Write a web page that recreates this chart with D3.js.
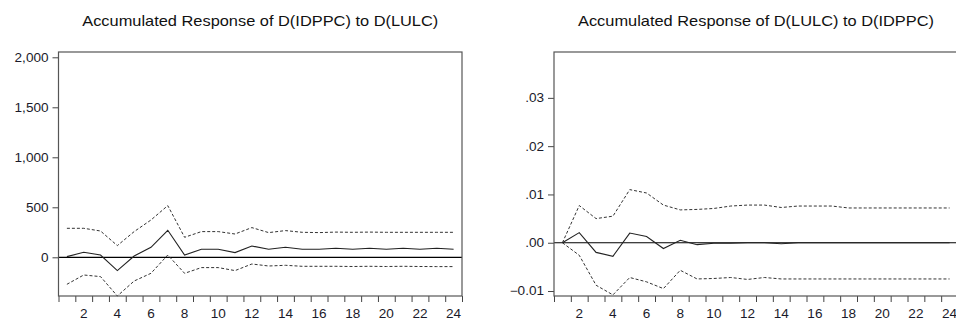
<!DOCTYPE html>
<html>
<head>
<meta charset="utf-8">
<script src="https://cdn.jsdelivr.net/npm/d3@7"></script>
<style>
  body { margin: 0; background: #fff; }
  svg { display: block; font-family: "Liberation Sans", Arial, sans-serif; }
</style>
</head>
<body>
<svg id="chart" width="956" height="320"></svg>
<script>
const periods = d3.range(1, 25);

// Accumulated response of D(IDPPC) to D(LULC)
const idppcResp = [7, 50, 23, -133, 13, 100, 270, 23, 80, 80, 47, 113,
    80, 100, 80, 80, 90, 80, 90, 80, 90, 80, 90, 80];
const idppcUpper = [290, 290, 263, 117, 257, 373, 517, 200, 257, 257, 233, 297,
    247, 267, 250, 247, 252, 250, 252, 250, 250, 250, 250, 250];
const idppcLower = [-270, -177, -193, -387, -237, -160, 23, -160, -103, -103, -133, -67,
    -87, -80, -90, -90, -90, -92, -90, -92, -90, -92, -93, -93];
const idppcTicks = [0, 500, 1000, 1500, 2000];

// Accumulated response of D(LULC) to D(IDPPC)
const lulcResp = [0, 0.0021, -0.0020, -0.0028, 0.0020, 0.0013, -0.0012, 0.0005, -0.0004, -0.0001, -0.0001, 0,
    0, -0.0002, 0, 0, 0, 0, 0, 0, 0, 0, 0, 0];
const lulcUpper = [0, 0.0077, 0.0050, 0.0055, 0.0110, 0.0103, 0.0078, 0.0068, 0.0069, 0.0071, 0.0076, 0.0078,
    0.0078, 0.0073, 0.0076, 0.0076, 0.0076, 0.0072, 0.0072, 0.0072, 0.0072, 0.0072, 0.0072, 0.0072];
const lulcLower = [0, -0.0026, -0.0088, -0.0108, -0.0072, -0.0081, -0.0095, -0.0057, -0.0075, -0.0074, -0.0072, -0.0076,
    -0.0072, -0.0075, -0.0075, -0.0075, -0.0075, -0.0075, -0.0075, -0.0075, -0.0075, -0.0075, -0.0075, -0.0075];
const lulcTicks = [-0.01, 0, 0.01, 0.02, 0.03];

const svg = d3.select('#chart');
const stretch = 1.13; // the reference text is a bit wider than plain Arial

function widen(sel) {
    sel.each(function () {
        const w = this.getComputedTextLength();
        d3.select(this)
            .attr('textLength', w * stretch)
            .attr('lengthAdjust', 'spacingAndGlyphs');
    });
}

function panel(opts) {
    const { left, right, top, bottom, title, yDomain, yTicks, yFmt, resp, upper, lower } = opts;
    const x = d3.scaleLinear().domain([0.5, 24.5]).range([left, right]);
    const y = d3.scaleLinear().domain(yDomain).range([bottom, top]);
    const g = svg.append('g');

    g.append('text')
        .attr('x', (left + right) / 2)
        .attr('y', 26)
        .attr('text-anchor', 'middle')
        .attr('font-size', 14.5)
        .attr('fill', '#111')
        .text(title)
        .call(widen);

    // y axis
    const yAxis = g.append('g')
        .attr('transform', `translate(${left},0)`)
        .call(d3.axisLeft(y).tickValues(yTicks).tickFormat(yFmt).tickSize(6).tickPadding(4));
    yAxis.select('.domain').remove();
    yAxis.selectAll('line').attr('stroke', '#444');
    yAxis.selectAll('text')
        .attr('font-size', 12)
        .attr('fill', '#1a1a2a')
        .attr('font-family', null)
        .call(widen);

    // x axis: ticks at band edges, labels at even periods
    const xAxis = g.append('g')
        .attr('transform', `translate(0,${bottom})`)
        .call(d3.axisBottom(x).tickValues(d3.range(0.5, 25, 1)).tickFormat('').tickSize(6));
    xAxis.select('.domain').remove();
    xAxis.selectAll('line').attr('stroke', '#444');

    g.selectAll('.xlab')
        .data(periods.filter((p) => p % 2 === 0))
        .enter()
        .append('text')
        .attr('class', 'xlab')
        .attr('x', (d) => x(d))
        .attr('y', bottom + 22)
        .attr('text-anchor', 'middle')
        .attr('font-size', 12)
        .attr('fill', '#1a1a2a')
        .text((d) => d)
        .call(widen);

    // zero line
    g.append('line')
        .attr('x1', left).attr('x2', right)
        .attr('y1', y(0)).attr('y2', y(0))
        .attr('stroke', '#000')
        .attr('stroke-width', 1.2);

    const line = d3.line()
        .x((d, i) => x(periods[i]))
        .y((d) => y(d));

    g.append('path')
        .datum(upper)
        .attr('d', line)
        .attr('fill', 'none')
        .attr('stroke', '#333')
        .attr('stroke-dasharray', '3,2');

    g.append('path')
        .datum(lower)
        .attr('d', line)
        .attr('fill', 'none')
        .attr('stroke', '#333')
        .attr('stroke-dasharray', '3,2');

    g.append('path')
        .datum(resp)
        .attr('d', line)
        .attr('fill', 'none')
        .attr('stroke', '#222')
        .attr('stroke-width', 1.1);

    // frame
    g.append('rect')
        .attr('x', left).attr('y', top)
        .attr('width', right - left).attr('height', bottom - top)
        .attr('fill', 'none')
        .attr('stroke', '#555')
        .attr('stroke-width', 1.2);
}

panel({
    left: 58.5, right: 462, top: 52, bottom: 296,
    title: 'Accumulated Response of D(IDPPC) to D(LULC)',
    yDomain: [-387, 2053], yTicks: idppcTicks, yFmt: d3.format(','),
    resp: idppcResp, upper: idppcUpper, lower: idppcLower,
});

panel({
    left: 554, right: 958, top: 52, bottom: 296,
    title: 'Accumulated Response of D(LULC) to D(IDPPC)',
    yDomain: [-0.01103, 0.0395], yTicks: lulcTicks,
    yFmt: (d) => d3.format('.2f')(d).replace(/^(-?)0\./, '$1.'),
    resp: lulcResp, upper: lulcUpper, lower: lulcLower,
});
</script>
</body>
</html>
